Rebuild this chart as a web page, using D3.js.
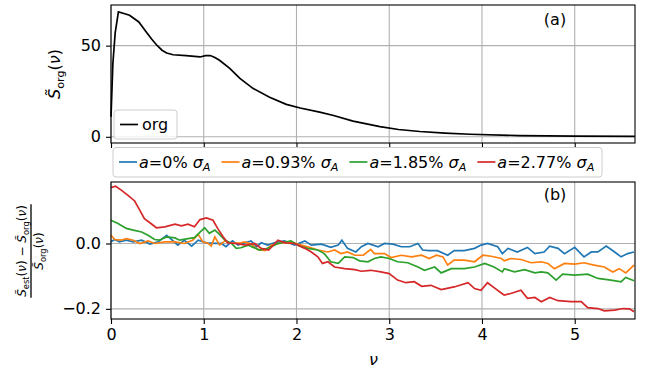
<!DOCTYPE html>
<html>
<head>
<meta charset="utf-8">
<script src="https://cdn.jsdelivr.net/npm/d3@7"></script>
<style>
  body { margin: 0; background: #fff; }
  text { font-family: "DejaVu Sans", sans-serif; fill: #000; }
</style>
</head>
<body>
<svg id="chart" width="657" height="370"></svg>
<script>
// panel (a): original spectrum, [nu, S_org]
const orgCurve = [[0,11],[0.02,40],[0.045,57],[0.08,68.5],[0.13,67.8],[0.2,66.7],[0.3,63],[0.38,57.5],
  [0.44,53.5],[0.49,50.5],[0.55,47.5],[0.6,46],[0.67,45],[0.81,44.5],[0.96,43.8],[1.02,44.5],[1.07,44.6],
  [1.12,43.5],[1.17,42],[1.28,37.5],[1.39,32],[1.53,26.6],[1.71,21.7],[1.89,17.8],[2.04,15.8],[2.25,13.5],
  [2.4,11.7],[2.61,8.6],[2.9,5.6],[3.1,4.0],[3.33,2.9],[3.6,2.0],[3.87,1.4],[4.4,0.7],[5,0.35],[5.65,0.2]];

// panel (b): relative error, [nu, value] per noise level
const err0 = [[0,0.005],[0.04,0.012],[0.09,0.005],[0.165,0.01],[0.24,0.005],[0.33,0.01],[0.42,-0.002],[0.51,0.005],
  [0.6,0.025],[0.67,0.008],[0.72,-0.005],[0.79,0.01],[0.87,-0.008],[0.94,0.01],[1.03,0.002],[1.12,0],[1.19,0],
  [1.24,-0.01],[1.31,0.008],[1.37,-0.005],[1.42,0],[1.51,0.008],[1.57,-0.01],[1.62,0.002],[1.69,-0.005],
  [1.76,0.002],[1.87,0.008],[1.98,-0.005],[2.09,0.008],[2.16,-0.005],[2.27,-0.002],[2.37,-0.012],[2.45,-0.005],
  [2.49,0.01],[2.55,-0.015],[2.64,-0.026],[2.7,-0.01],[2.77,0],[2.88,-0.01],[2.95,0],[3.04,-0.002],[3.13,-0.01],
  [3.22,-0.01],[3.31,0],[3.36,-0.02],[3.43,-0.022],[3.52,-0.022],[3.63,-0.036],[3.7,-0.022],[3.81,-0.022],
  [3.92,-0.015],[3.99,-0.005],[4.06,0],[4.17,-0.01],[4.22,-0.031],[4.28,-0.015],[4.38,-0.026],[4.49,-0.012],
  [4.57,-0.031],[4.67,-0.026],[4.73,-0.008],[4.82,-0.015],[4.89,-0.031],[5.0,-0.012],[5.1,-0.041],[5.18,-0.026],
  [5.25,-0.026],[5.34,-0.008],[5.43,-0.026],[5.5,-0.041],[5.57,-0.031],[5.64,-0.026]];
const err093 = [[0,0.025],[0.04,0.012],[0.11,0.01],[0.165,0.015],[0.24,0.01],[0.31,0],[0.4,0.008],[0.47,0],
  [0.58,0.005],[0.69,0.005],[0.79,0],[0.88,0.01],[0.94,0.028],[0.99,0.005],[1.05,0],[1.08,-0.008],[1.12,0.02],
  [1.17,-0.005],[1.23,0.008],[1.3,0],[1.4,0.002],[1.44,0.005],[1.51,-0.002],[1.58,-0.018],[1.66,-0.022],
  [1.73,-0.005],[1.84,0.002],[1.94,0.004],[2.05,-0.005],[2.14,-0.012],[2.23,-0.02],[2.34,-0.026],[2.41,-0.02],
  [2.48,-0.031],[2.55,-0.026],[2.63,-0.036],[2.72,-0.036],[2.8,-0.018],[2.84,-0.031],[2.95,-0.031],[3.02,-0.043],
  [3.13,-0.036],[3.24,-0.041],[3.35,-0.036],[3.43,-0.046],[3.51,-0.036],[3.58,-0.041],[3.63,-0.066],[3.7,-0.051],
  [3.81,-0.051],[3.92,-0.056],[4.01,-0.036],[4.1,-0.039],[4.21,-0.046],[4.24,-0.053],[4.31,-0.046],[4.42,-0.049],
  [4.53,-0.059],[4.64,-0.056],[4.71,-0.061],[4.78,-0.077],[4.89,-0.061],[5.0,-0.063],[5.1,-0.059],[5.21,-0.066],
  [5.32,-0.072],[5.41,-0.087],[5.48,-0.077],[5.55,-0.09],[5.64,-0.066]];
const err185 = [[0,0.071],[0.075,0.061],[0.165,0.046],[0.24,0.041],[0.33,0.035],[0.4,0.025],[0.47,0.012],[0.52,0.01],
  [0.6,0.02],[0.69,0.017],[0.74,0.01],[0.83,0.015],[0.9,0.018],[0.96,0.035],[1.01,0.048],[1.06,0.031],[1.12,0.041],
  [1.17,0.028],[1.23,0.01],[1.3,0],[1.35,-0.015],[1.4,-0.013],[1.48,-0.005],[1.6,-0.02],[1.69,-0.015],[1.8,0],
  [1.94,0.008],[2.03,-0.008],[2.12,-0.015],[2.23,-0.02],[2.3,-0.031],[2.37,-0.056],[2.45,-0.061],[2.52,-0.041],
  [2.61,-0.043],[2.68,-0.053],[2.77,-0.056],[2.84,-0.046],[2.91,-0.041],[3.0,-0.046],[3.09,-0.056],[3.2,-0.059],
  [3.31,-0.072],[3.38,-0.082],[3.49,-0.072],[3.56,-0.09],[3.67,-0.077],[3.81,-0.077],[3.92,-0.072],[4.03,-0.061],
  [4.13,-0.072],[4.22,-0.087],[4.24,-0.077],[4.35,-0.087],[4.46,-0.08],[4.57,-0.09],[4.64,-0.087],[4.71,-0.09],
  [4.8,-0.112],[4.87,-0.094],[5.0,-0.097],[5.14,-0.094],[5.25,-0.107],[5.39,-0.112],[5.5,-0.117],[5.55,-0.104],
  [5.64,-0.114]];
const err277 = [[0,0.171],[0.05,0.175],[0.11,0.163],[0.18,0.148],[0.255,0.13],[0.31,0.102],[0.36,0.076],[0.43,0.061],
  [0.49,0.048],[0.58,0.051],[0.69,0.059],[0.76,0.054],[0.83,0.059],[0.9,0.051],[0.96,0.073],[1.03,0.078],[1.1,0.071],
  [1.15,0.046],[1.21,0.02],[1.26,0.002],[1.35,0],[1.45,-0.005],[1.55,0],[1.62,-0.015],[1.7,-0.02],[1.8,0.01],
  [1.88,0.002],[1.98,0],[2.09,-0.015],[2.16,-0.026],[2.23,-0.041],[2.28,-0.061],[2.34,-0.056],[2.41,-0.072],
  [2.52,-0.077],[2.63,-0.08],[2.7,-0.085],[2.8,-0.082],[2.91,-0.087],[3.0,-0.092],[3.09,-0.112],[3.18,-0.12],
  [3.27,-0.117],[3.35,-0.131],[3.45,-0.128],[3.56,-0.141],[3.7,-0.133],[3.85,-0.12],[3.92,-0.138],[3.99,-0.143],
  [4.06,-0.12],[4.13,-0.135],[4.2,-0.15],[4.24,-0.158],[4.31,-0.153],[4.42,-0.143],[4.49,-0.168],[4.57,-0.165],
  [4.64,-0.178],[4.73,-0.165],[4.82,-0.175],[4.96,-0.178],[5.07,-0.178],[5.14,-0.196],[5.25,-0.199],[5.32,-0.206],
  [5.43,-0.204],[5.52,-0.199],[5.59,-0.2],[5.64,-0.209]];

const noiseLabels = ['0%', '0.93%', '1.85%', '2.77%'];
const noiseSeries = [err0, err093, err185, err277];
const colors = ['#1f77b4', '#ff7f0e', '#2ca02c', '#d62728'];
const xTicks = [0, 1, 2, 3, 4, 5];
const yTicksA = [0, 50];
const yTicksB = [-0.2, 0.0];

const svg = d3.select('#chart');
const FS = 16;
const left = 111, right = 635;
const panA = {top: 5, bottom: 143};
const panB = {top: 182, bottom: 319};

const x = d3.scaleLinear().domain([0, 5.65]).range([left, right]);
const yA = d3.scaleLinear().domain([-3.4, 72.3]).range([panA.bottom, panA.top]);
const yB = d3.scaleLinear().domain([-0.231, 0.188]).range([panB.bottom, panB.top]);

// write a mathtext-like label from parts {t, it, sub}
function mathText(sel, parts, size) {
  let sub = false;
  for (let p of parts) {
    let ts = sel.append('tspan').text(p.t)
      .attr('font-style', p.it ? 'italic' : 'normal')
      .attr('font-size', p.sub ? size * 0.7 : size);
    if (p.sub && !sub) ts.attr('dy', size * 0.22);
    if (!p.sub && sub) ts.attr('dy', -size * 0.22);
    sub = !!p.sub;
  }
  return sel;
}

function panel(y, pan, yTicks, fmt, showX) {
  const g = svg.append('g');
  // grid
  g.selectAll('.gx').data(xTicks).enter().append('line')
    .attr('x1', d => x(d)).attr('x2', d => x(d))
    .attr('y1', pan.top).attr('y2', pan.bottom)
    .attr('stroke', '#b0b0b0').attr('stroke-width', 1.1);
  g.selectAll('.gy').data(yTicks).enter().append('line')
    .attr('x1', left).attr('x2', right)
    .attr('y1', d => y(d)).attr('y2', d => y(d))
    .attr('stroke', '#b0b0b0').attr('stroke-width', 1.1);

  const xa = d3.axisBottom(x).tickValues(xTicks).tickSize(5).tickPadding(5)
    .tickFormat(showX ? d3.format('d') : () => '');
  const ya = d3.axisLeft(y).tickValues(yTicks).tickSize(5).tickPadding(5).tickFormat(fmt);
  const gx = svg.append('g').attr('transform', `translate(0,${pan.bottom})`).call(xa);
  const gy = svg.append('g').attr('transform', `translate(${left},0)`).call(ya);
  for (let a of [gx, gy]) {
    a.select('.domain').remove();
    a.selectAll('line').attr('stroke', '#000').attr('stroke-width', 1.1);
    a.selectAll('text').attr('font-size', FS).attr('font-family', '"DejaVu Sans", sans-serif').attr('fill', '#000');
  }
  return g;
}

function frame(pan) {
  svg.append('rect').attr('x', left).attr('y', pan.top)
    .attr('width', right - left).attr('height', pan.bottom - pan.top)
    .attr('fill', 'none').attr('stroke', '#000').attr('stroke-width', 1.1);
}

// ---- panel (a)
panel(yA, panA, yTicksA, d3.format('d'), false);
svg.append('path').datum(orgCurve)
  .attr('d', d3.line().x(d => x(d[0])).y(d => yA(d[1])))
  .attr('fill', 'none').attr('stroke', '#000').attr('stroke-width', 1.7);
frame(panA);

svg.append('text').attr('x', 555).attr('y', 25).attr('text-anchor', 'middle')
  .attr('font-size', FS).text('(a)');

// legend (a)
svg.append('rect').attr('x', 114).attr('y', 110).attr('width', 63).attr('height', 29).attr('rx', 3)
  .attr('fill', '#fff').attr('fill-opacity', 0.8).attr('stroke', '#cccccc');
svg.append('line').attr('x1', 120).attr('x2', 138).attr('y1', 124.5).attr('y2', 124.5)
  .attr('stroke', '#000').attr('stroke-width', 1.7);
svg.append('text').attr('x', 142).attr('y', 130).attr('font-size', FS).text('org');

// y label (a)
mathText(svg.append('text').attr('text-anchor', 'middle')
  .attr('transform', 'translate(60,74) rotate(-90)'),
  [{t: 'S\u0303', it: true}, {t: 'org', sub: true}, {t: '('}, {t: '\u03bd', it: true}, {t: ')'}], FS);

// ---- panel (b)
panel(yB, panB, yTicksB, d3.format('.1f'), true);
const lineB = d3.line().x(d => x(d[0])).y(d => yB(d[1]));
svg.append('g').selectAll('path').data(noiseSeries).enter().append('path')
  .attr('d', lineB).attr('fill', 'none')
  .attr('stroke', (d, i) => colors[i]).attr('stroke-width', 1.7);
frame(panB);

svg.append('text').attr('x', 555).attr('y', 200).attr('text-anchor', 'middle')
  .attr('font-size', FS).text('(b)');

// x label
mathText(svg.append('text').attr('x', x(2.83)).attr('y', 365).attr('text-anchor', 'middle'),
  [{t: '\u03bd', it: true}], FS);

// y label (b): fraction
const FF = 12;
const fr = svg.append('g').attr('transform', 'translate(31,251) rotate(-90)');
const num = mathText(fr.append('text').attr('text-anchor', 'middle').attr('y', -5),
  [{t: 'S\u0303', it: true}, {t: 'est', sub: true}, {t: '('}, {t: '\u03bd', it: true}, {t: ') \u2212 '},
   {t: 'S\u0303', it: true}, {t: 'org', sub: true}, {t: '('}, {t: '\u03bd', it: true}, {t: ')'}], FF);
mathText(fr.append('text').attr('text-anchor', 'middle').attr('y', 12),
  [{t: 'S\u0303', it: true}, {t: 'org', sub: true}, {t: '('}, {t: '\u03bd', it: true}, {t: ')'}], FF);
const nw = num.node().getComputedTextLength();
fr.append('line').attr('x1', -nw / 2 - 1).attr('x2', nw / 2 + 1).attr('y1', 0).attr('y2', 0)
  .attr('stroke', '#000').attr('stroke-width', 1.3);

// legend (b)
const lg = svg.append('g');
lg.append('rect').attr('x', 113).attr('y', 147.5).attr('width', 489).attr('height', 29.5).attr('rx', 3)
  .attr('fill', '#fff').attr('fill-opacity', 0.8).attr('stroke', '#cccccc');
let lx = 119;
noiseLabels.forEach((lab, i) => {
  lg.append('line').attr('x1', lx).attr('x2', lx + 18).attr('y1', 162).attr('y2', 162)
    .attr('stroke', colors[i]).attr('stroke-width', 1.7);
  const t = mathText(lg.append('text').attr('x', lx + 20).attr('y', 167.5),
    [{t: 'a', it: true}, {t: '=' + lab + ' '}, {t: '\u03c3', it: true}, {t: 'A', it: true, sub: true}], FS);
  lx = lx + 20 + t.node().getComputedTextLength() + 11;
});
</script>
</body>
</html>
